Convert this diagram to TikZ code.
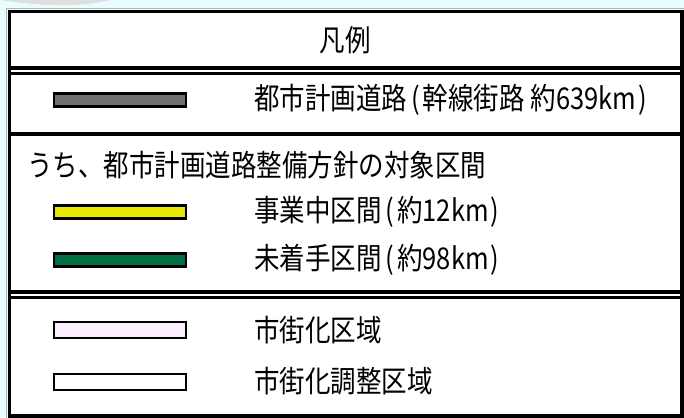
\documentclass[tikz,border=0pt]{standalone}
\usepackage{fontspec}
\setmainfont{Noto Sans CJK JP}[FakeStretch=0.85]
\newcommand{\lp}{\kern4pt(\kern3pt}
\newcommand{\rp}{\kern2pt)}
\begin{document}
\begin{tikzpicture}[x=1pt,y=-1pt,
  rule/.style={line width=3.2pt},
  swatch/.style={draw=black,line width=2.2pt,minimum width=132pt,minimum height=13pt,inner sep=0pt},
  lbl/.style={anchor=west,inner sep=0pt,font=\fontsize{30}{30}\selectfont}]
\definecolor{bgcyan}{HTML}{E8FEFE}
\definecolor{roadgray}{HTML}{6E6E6E}
\definecolor{roadyellow}{HTML}{E6E600}
\definecolor{roadgreen}{HTML}{007044}
\definecolor{zonepink}{HTML}{FCEEFC}
\useasboundingbox (0,0) rectangle (684,417);
\fill[bgcyan] (0,0) rectangle (684,417);
\fill[gray!25] (0,0) .. controls (40,6) and (80,8) .. (110,0) -- cycle;
\draw[gray!60,line width=0.8pt] (6,434) -- (6,8) -- (690,8);
\fill[white] (9.5,11.5) rectangle (682,416);
\draw[rule] (9.5,11.5) rectangle (682,416);
\draw[rule] (9.5,68) -- (682,68);
\draw[rule] (9.5,73.5) -- (682,73.5);
\draw[rule] (9.5,134) -- (682,134);
\draw[rule] (9.5,292) -- (682,292);
\draw[rule] (9.5,297.5) -- (682,297.5);
\node[font=\fontsize{30}{30}\selectfont,inner sep=0pt] (title) at (345,40) {凡例};
\node[swatch,fill=roadgray] (s1) at (120,100) {};
\node[lbl] (t1) at (254,100) {都市計画道路\lp 幹線街路 約639km\rp};
\node[lbl] (t2) at (27,165) {うち、都市計画道路整備方針の対象区間};
\node[swatch,fill=roadyellow] (s2) at (120,212) {};
\node[lbl] (t3) at (254,212) {事業中区間\lp 約12km\rp};
\node[swatch,fill=roadgreen] (s3) at (120,260) {};
\node[lbl] (t4) at (254,260) {未着手区間\lp 約98km\rp};
\node[swatch,fill=zonepink,minimum height=16pt] (s4) at (120,330) {};
\node[lbl] (t5) at (254,330) {市街化区域};
\node[swatch,fill=white,minimum height=16pt] (s5) at (120,382) {};
\node[lbl] (t6) at (254,381) {市街化調整区域};
\end{tikzpicture}
\end{document}
